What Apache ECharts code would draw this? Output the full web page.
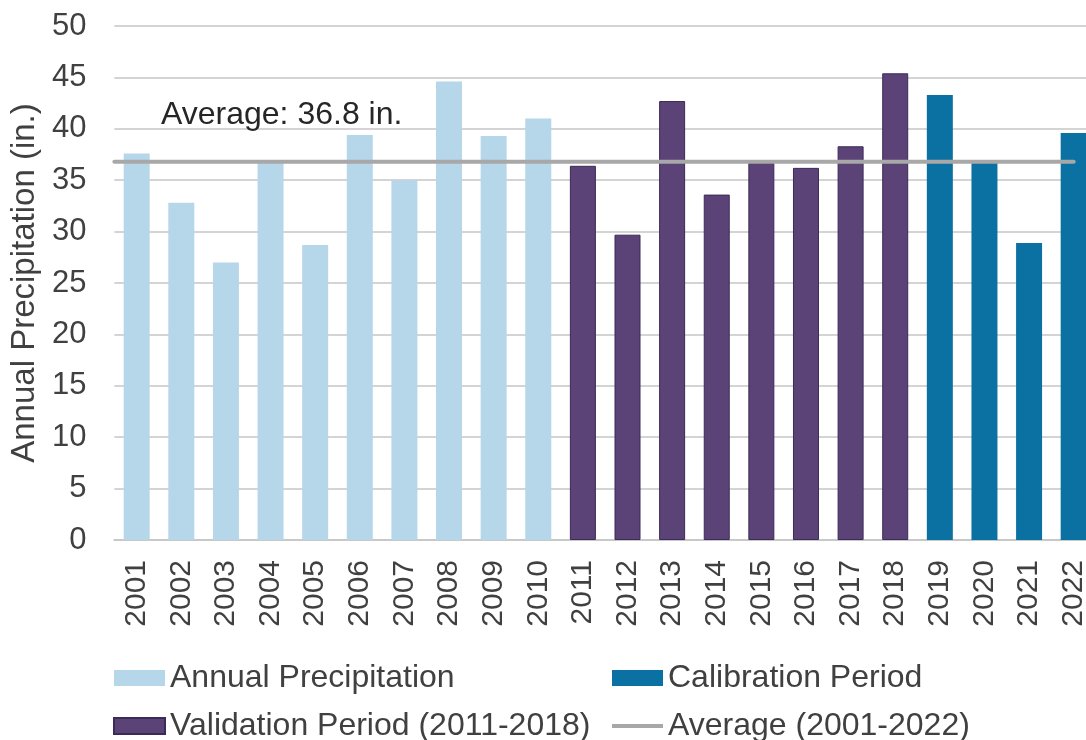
<!DOCTYPE html>
<html>
<head>
<meta charset="utf-8">
<script src="https://cdn.jsdelivr.net/npm/echarts@6/dist/echarts.min.js"></script>
<style>
  html, body { margin: 0; padding: 0; background: #fff; overflow: hidden; }
  /* the plot runs a little past the right edge of the picture */
  #chart { width: 1096px; height: 740px; }
</style>
</head>
<body>
<div id="chart"></div>
<script>
var years = ['2001','2002','2003','2004','2005','2006','2007','2008','2009','2010','2011',
             '2012','2013','2014','2015','2016','2017','2018','2019','2020','2021','2022'];
// (inches)
var annual =      [37.6, 32.8, 27.0, 36.9, 28.7, 39.4, 35.0, 44.6, 39.3, 41.0, '-', '-', '-', '-', '-', '-', '-', '-', '-', '-', '-', '-'];
var validation =  ['-', '-', '-', '-', '-', '-', '-', '-', '-', '-', 36.4, 29.7, 42.7, 33.6, 36.7, 36.2, 38.3, 45.4, '-', '-', '-', '-'];
var calibration = ['-', '-', '-', '-', '-', '-', '-', '-', '-', '-', '-', '-', '-', '-', '-', '-', '-', '-', 43.3, 36.7, 28.9, 39.6];
var avgValue = 36.8;
// the average line runs from the left edge to the centre of the last year
var avgLine = [[0, avgValue], [21.5, avgValue]];
var yTicks = { min: 0, max: 50, step: 5 };

var textColor = '#404040';
var font = 'Liberation Sans, Arial, sans-serif';

var myChart = echarts.init(document.getElementById('chart'));
var option = {
    animation: false,
    backgroundColor: '#fff',
    textStyle: { fontFamily: font },
    title: {
        text: 'Average: ' + avgValue + ' in.',
        left: 156,
        top: 94,
        textStyle: { fontSize: 32, fontWeight: 'normal', color: '#262626', fontFamily: font }
    },
    grid: { left: 113, right: 0, top: 26, bottom: 200 },
    legend: [{
        orient: 'vertical',
        left: 108,
        top: 657,
        height: 140,
        itemWidth: 51,
        itemHeight: 16,
        itemGap: 16,
        textStyle: { fontSize: 32, color: textColor, fontFamily: font },
        data: [
            { name: 'Annual Precipitation', icon: 'rect' },
            { name: 'Validation Period (2011-2018)', icon: 'rect' }
        ]
    }, {
        orient: 'vertical',
        left: 607,
        top: 657,
        height: 140,
        itemWidth: 51,
        itemHeight: 16,
        itemGap: 16,
        textStyle: { fontSize: 32, color: textColor, fontFamily: font },
        data: [
            { name: 'Calibration Period', icon: 'rect' },
            { name: 'Average (2001-2022)', icon: 'path://M0,0 L54,0 L54,4 L0,4 Z' }
        ]
    }],
    xAxis: [{
        type: 'category',
        data: years,
        axisTick: { show: false },
        axisLine: { lineStyle: { color: '#c8c8c8', width: 2 } },
        axisLabel: { rotate: 90, fontSize: 30, color: textColor, margin: 20, fontFamily: font }
    }, {
        type: 'value',
        min: 0,
        max: years.length,
        show: false
    }],
    yAxis: {
        type: 'value',
        min: yTicks.min,
        max: yTicks.max,
        interval: yTicks.step,
        name: 'Annual Precipitation (in.)',
        nameLocation: 'middle',
        nameGap: 72,
        nameTextStyle: { fontSize: 33, color: textColor, fontFamily: font },
        axisLine: { show: false },
        axisTick: { show: false },
        axisLabel: { fontSize: 31, color: textColor, margin: 28, fontFamily: font },
        splitLine: { lineStyle: { color: '#d4d4d4', width: 2 } }
    },
    series: [{
        name: 'Annual Precipitation',
        type: 'bar',
        stack: 'p',
        barWidth: 26,
        itemStyle: { color: '#b6d6ea' },
        data: annual
    }, {
        name: 'Validation Period (2011-2018)',
        type: 'bar',
        stack: 'p',
        barWidth: 26,
        itemStyle: { color: '#5b4378', borderColor: '#3c2a57', borderWidth: 1 },
        data: validation
    }, {
        name: 'Calibration Period',
        type: 'bar',
        stack: 'p',
        barWidth: 26,
        itemStyle: { color: '#0b71a3' },
        data: calibration
    }, {
        name: 'Average (2001-2022)',
        type: 'line',
        xAxisIndex: 1,
        symbol: 'none',
        z: 5,
        lineStyle: { color: '#a8a8a8', width: 4, cap: 'round' },
        itemStyle: { color: '#a8a8a8' },
        data: avgLine
    }]
};
myChart.setOption(option);
</script>
</body>
</html>
